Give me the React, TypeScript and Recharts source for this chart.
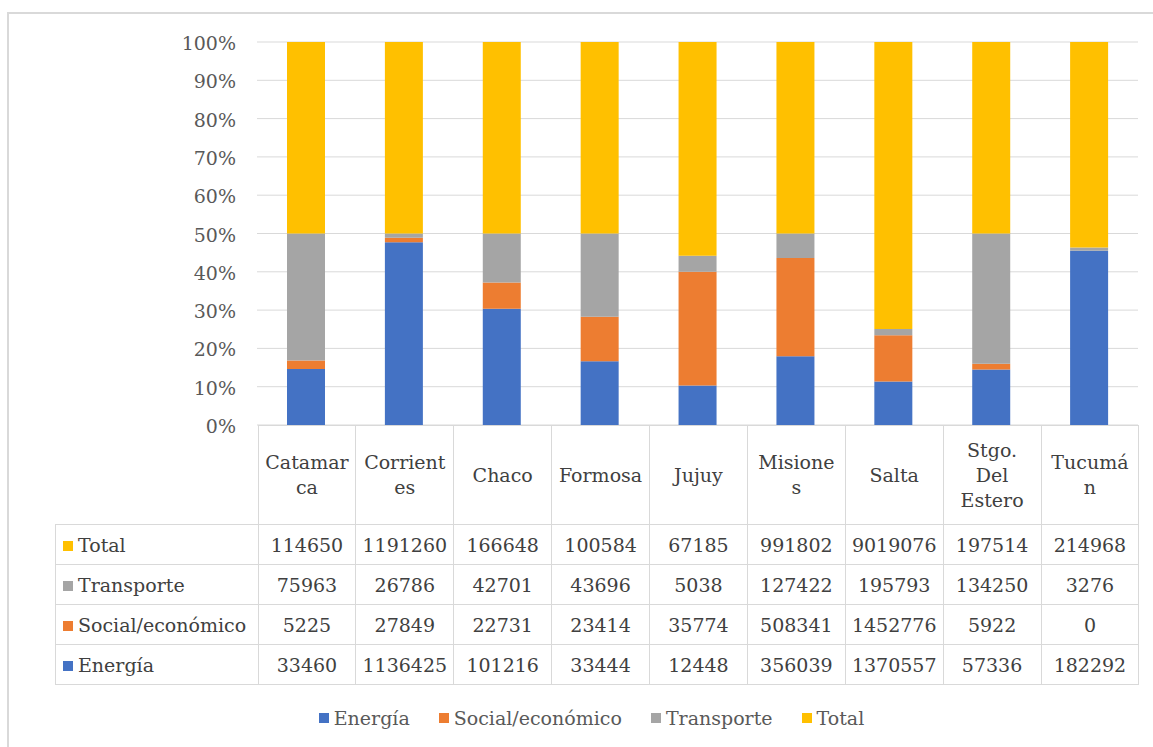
import { BarChart, Bar, YAxis, XAxis, CartesianGrid } from 'recharts'

const PROVINCES = [
  'Catamarca', 'Corrientes', 'Chaco', 'Formosa', 'Jujuy',
  'Misiones', 'Salta', 'Stgo. Del Estero', 'Tucumán',
]

// header cells wrap inside the narrow columns
const HEADER_LINES = [
  ['Catamar', 'ca'], ['Corrient', 'es'], ['Chaco'], ['Formosa'], ['Jujuy'],
  ['Misione', 's'], ['Salta'], ['Stgo.', 'Del', 'Estero'], ['Tucumá', 'n'],
]

const ENERGIA    = [33460, 1136425, 101216, 33444, 12448, 356039, 1370557, 57336, 182292]
const SOCIAL     = [5225, 27849, 22731, 23414, 35774, 508341, 1452776, 5922, 0]
const TRANSPORTE = [75963, 26786, 42701, 43696, 5038, 127422, 195793, 134250, 3276]
const TOTAL      = [114650, 1191260, 166648, 100584, 67185, 991802, 9019076, 197514, 214968]

const Y_TICKS = [0, 0.1, 0.2, 0.3, 0.4, 0.5, 0.6, 0.7, 0.8, 0.9, 1]

const SERIES = [
  { key: 'energia',    name: 'Energía',          color: '#4472C4', values: ENERGIA },
  { key: 'social',     name: 'Social/económico', color: '#ED7D31', values: SOCIAL },
  { key: 'transporte', name: 'Transporte',       color: '#A5A5A5', values: TRANSPORTE },
  { key: 'total',      name: 'Total',            color: '#FFC000', values: TOTAL },
]

const data = PROVINCES.map((p, i) => {
  const row: Record<string, string | number> = { name: p }
  SERIES.forEach(s => { row[s.key] = s.values[i] })
  return row
})

const FONT = 'DejaVu Serif'
const GRID = '#d9d9d9'
const TEXT = '#404040'

// plot box
const PLOT_L = 257
const PLOT_R = 1138
const PLOT_T = 42
const PLOT_B = 425
const COL_W = (PLOT_R - PLOT_L) / PROVINCES.length
const LABEL_L = 55

function PctTick({ x, y, payload }: any) {
  return (
    <text x={x - 13} y={y} textAnchor="end" dy={8}
      fill="#595959" fontSize={19} style={{ fontFamily: FONT }}>
      {Math.round(payload.value * 100)}%
    </text>
  )
}

const swatch = (color: string) => (
  <span style={{ display: 'inline-block', width: 10, height: 10, background: color, marginRight: 5, verticalAlign: 1 }} />
)

export default function App() {
  const cell: React.CSSProperties = {
    border: `1px solid ${GRID}`, textAlign: 'center', padding: 0,
    width: COL_W, boxSizing: 'border-box', whiteSpace: 'nowrap',
  }
  const tableRows = [...SERIES].reverse()

  return (
    <div style={{
      position: 'absolute', left: 0, top: 0, width: 1153, height: 747,
      background: 'white', overflow: 'hidden', fontFamily: FONT, color: TEXT,
    }}>
      {/* chart frame, runs off the right and bottom */}
      <div style={{
        position: 'absolute', left: 7, top: 12, width: 1300, height: 900,
        border: `2px solid ${GRID}`,
      }} />

      <div style={{ position: 'absolute', left: 0, top: 0 }}>
        <BarChart
          width={1153} height={747} data={data} stackOffset="expand"
          margin={{ top: PLOT_T, left: PLOT_L - 60, right: 1153 - PLOT_R, bottom: 747 - PLOT_B }}
        >
          <CartesianGrid vertical={false} stroke={GRID} />
          <XAxis dataKey="name" hide />
          <YAxis
            width={60} domain={[0, 1]} ticks={Y_TICKS} tick={<PctTick />}
            axisLine={false} tickLine={false} interval={0}
          />
          {SERIES.map(s => (
            <Bar key={s.key} dataKey={s.key} name={s.name} stackId="a"
              fill={s.color} barSize={38} isAnimationActive={false} />
          ))}
        </BarChart>
      </div>

      {/* data table under the plot */}
      <table style={{
        position: 'absolute', left: LABEL_L, top: PLOT_B,
        borderCollapse: 'collapse', tableLayout: 'fixed',
        width: PLOT_R - LABEL_L, fontSize: 19, color: TEXT, fontFamily: FONT,
      }}>
        <tbody>
          <tr style={{ height: 99 }}>
            <td style={{ width: PLOT_L - LABEL_L, padding: 0 }} />
            {HEADER_LINES.map((lines, i) => (
              <td key={i} style={{ ...cell, lineHeight: '25px' }}>
                {lines.map((l, j) => <div key={j}>{l}</div>)}
              </td>
            ))}
          </tr>
          {tableRows.map(s => (
            <tr key={s.key} style={{ height: 40 }}>
              <td style={{ ...cell, width: PLOT_L - LABEL_L, textAlign: 'left', paddingLeft: 7 }}>
                {swatch(s.color)}
                {s.name}
              </td>
              {s.values.map((v, i) => (
                <td key={i} style={cell}>{v}</td>
              ))}
            </tr>
          ))}
        </tbody>
      </table>

      {/* legend */}
      <div style={{
        position: 'absolute', left: 30, width: 1123, top: 705,
        display: 'flex', justifyContent: 'center', gap: 29,
        fontSize: 19, color: '#595959', lineHeight: '26px', fontFamily: FONT,
      }}>
        {SERIES.map(s => (
          <div key={s.key} style={{ display: 'flex', alignItems: 'center' }}>
            {swatch(s.color)}
            <span>{s.name}</span>
          </div>
        ))}
      </div>
    </div>
  )
}
